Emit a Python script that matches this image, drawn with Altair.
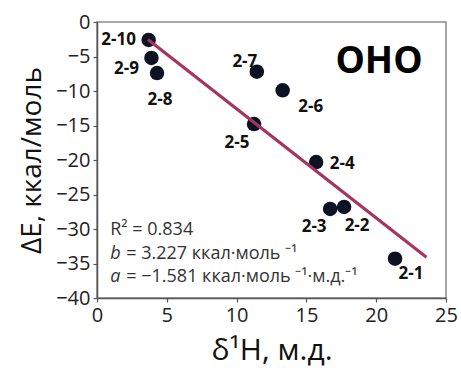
import altair as alt
import pandas as pd

# Chemical shift of the bridging proton vs. interaction energy, OHO complexes
names = ["2-1", "2-2", "2-3", "2-4", "2-5", "2-6", "2-7", "2-8", "2-9", "2-10"]
shift = [21.35, 17.7, 16.7, 15.7, 11.25, 13.3, 11.45, 4.3, 3.9, 3.7]
energy = [-34.3, -26.8, -27.1, -20.3, -14.8, -9.9, -7.2, -7.4, -5.2, -2.6]

# Linear fit: ΔE = b + a·δ
fit_b = 3.227
fit_a = -1.581
fit_r2 = 0.834
fit_x = [3.65, 23.6]

# Label placement around each point (pixel offsets)
label_offset = {
    "2-1": (16, 15), "2-2": (13, 19), "2-3": (-16, 18), "2-4": (26, 2),
    "2-5": (-17, 19), "2-6": (28, 17), "2-7": (-12, -10), "2-8": (3, 27),
    "2-9": (-25, 11), "2-10": (-30, 0),
}

FONT = "Open Sans"
NBSP = "\u00a0"

pts = pd.DataFrame({"name": names, "x": shift, "y": energy})
fit = pd.DataFrame({"x": fit_x, "y": [fit_b + fit_a * v for v in fit_x]})

xscale = alt.Scale(domain=[0, 25], nice=False)
yscale = alt.Scale(domain=[-40, 0], nice=False)

xaxis = alt.Axis(values=[0, 5, 10, 15, 20, 25], title="δ¹H, м.д.", titleFontSize=30,
                 titleFontWeight="normal", titlePadding=10)
yaxis = alt.Axis(values=list(range(-40, 1, 5)), title="ΔE, ккал/моль", titleFontSize=28,
                 titleFontWeight="normal", titlePadding=9)

X = alt.X("x:Q", scale=xscale, axis=xaxis)
Y = alt.Y("y:Q", scale=yscale, axis=yaxis)

points = alt.Chart(pts).mark_circle(size=210, color="#0c1222", opacity=1).encode(x=X, y=Y)

line = alt.Chart(fit).mark_line(color="#a3355f", strokeWidth=3.2).encode(x=X, y=Y)

labels = []
for nm in names:
    dx, dy = label_offset[nm]
    labels.append(
        alt.Chart(pts).transform_filter(alt.datum.name == nm).mark_text(
            font=FONT, fontSize=17, fontWeight="bold", color="#111111",
            align="center", baseline="middle", dx=dx, dy=dy,
        ).encode(x=X, y=Y, text="name:N")
    )

# Complex name in the upper right corner
title_df = pd.DataFrame({"x": [20.2], "y": [-5.8], "t": ["OHO"]})
oho = alt.Chart(title_df).mark_text(
    font=FONT, fontSize=37, fontWeight="bold", color="#000000", align="center", baseline="middle"
).encode(x=X, y=Y, text="t:N")

# Fit statistics
ann_x = 0.95
ann = pd.DataFrame({
    "x": [ann_x, ann_x, ann_x],
    "y": [-30.1, -33.6, -36.9],
    "sym": ["", "b", "a"],
    "rest": [f"R² = {fit_r2:.3f}",
             f"= {fit_b:.3f} ккал·моль{NBSP}⁻¹",
             f"= −{abs(fit_a):.3f} ккал·моль{NBSP}⁻¹·м.д.⁻¹"],
})
ann_sym = alt.Chart(ann).mark_text(
    font=FONT, fontSize=18, fontStyle="italic", color="#333333", align="left", baseline="middle"
).encode(x=X, y=Y, text="sym:N")
ann_r2 = alt.Chart(ann.iloc[[0]]).mark_text(
    font=FONT, fontSize=18, color="#333333", align="left", baseline="middle"
).encode(x=X, y=Y, text="rest:N")
ann_rest = alt.Chart(ann.iloc[1:]).mark_text(
    font=FONT, fontSize=18, color="#333333", align="left", baseline="middle", dx=16
).encode(x=X, y=Y, text="rest:N")

chart = alt.layer(points, line, *labels, oho, ann_sym, ann_r2, ann_rest).properties(
    width=349, height=276,
    autosize=alt.AutoSizeParams(type="none"),
    padding={"left": 97, "top": 22, "right": 15, "bottom": 70},
    background="white",
).configure_view(
    stroke="#8a8a8a", strokeWidth=1.5
).configure_axis(
    grid=False, labelFont=FONT, titleFont=FONT, labelFontSize=20, labelColor="#222222",
    titleColor="#111111", domainColor="#555555", domainWidth=1.5, tickColor="#555555",
    tickSize=4, tickWidth=1.2, labelPadding=3, labelOverlap=False, labelFlush=False,
)

chart.save("out.html", embed_options={"renderer": "svg", "actions": False})
